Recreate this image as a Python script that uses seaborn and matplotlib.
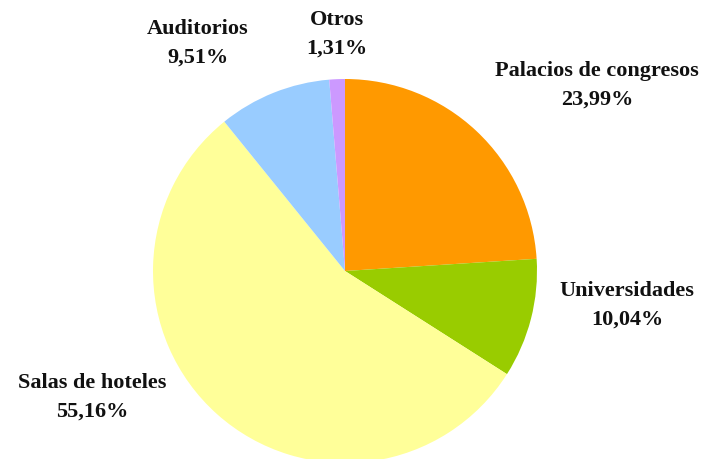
import matplotlib
matplotlib.use("Agg")
import matplotlib.pyplot as plt
import seaborn as sns

# Datos del gráfico
categorias = ['Palacios de congresos', 'Universidades', 'Salas de hoteles', 'Auditorios', 'Otros']
porcentajes = [23.99, 10.04, 55.16, 9.51, 1.31]
colores = ['#FF9900', '#99CC00', '#FFFF99', '#99CCFF', '#CC99FF']

# Posición de las etiquetas (en píxeles de la figura, origen arriba a la izquierda)
pos_etiquetas = [(597, 85), (627, 305), (92, 397), (198, 43), (337, 34)]

sns.set_theme(style="white")
plt.rcParams['font.family'] = ['Liberation Serif', 'DejaVu Serif']

W, H = 710, 460
fig = plt.figure(figsize=(W / 100, H / 100), dpi=100)
ax = fig.add_axes([0, 0, 1, 1])
ax.set_xlim(0, W)
ax.set_ylim(0, H)
ax.set_aspect('equal')
ax.axis('off')

ax.pie(porcentajes, colors=colores, startangle=90, counterclock=False,
       center=(345, H - 272), radius=192, wedgeprops=dict(linewidth=0))

ax.set_xlim(0, W)
ax.set_ylim(0, H)

for cat, pct, (x, y) in zip(categorias, porcentajes, pos_etiquetas):
    texto = f"{cat}\n{pct:.2f}%".replace('.', ',')
    ax.text(x, H - y, texto, ha='center', va='center', fontsize=16,
            fontweight='bold', color='#111111', linespacing=1.55)

fig.savefig('out.png', dpi=100)
